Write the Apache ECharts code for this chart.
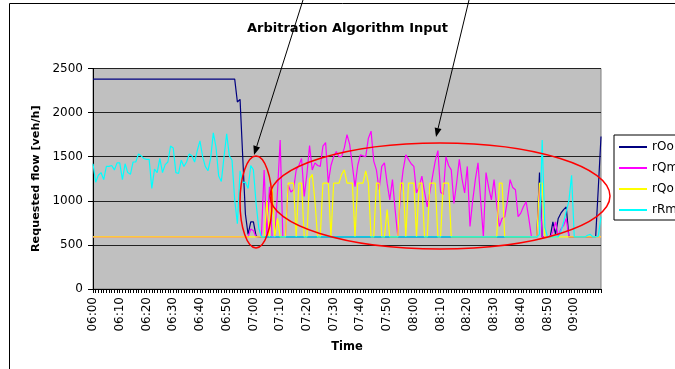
<!DOCTYPE html>
<html>
<head>
<meta charset="utf-8">
<script src="https://cdn.jsdelivr.net/npm/echarts@6/dist/echarts.min.js"></script>
<style>
  html, body { margin: 0; padding: 0; background: #fff; }
  #chartWrap { width: 675px; height: 369px; }
</style>
</head>
<body>
<div id="chartWrap"></div>
<script>
// one point per minute, 06:00 .. 09:10
var times = [];
for (var i = 0; i <= 190; i++) {
  var h = 6 + Math.floor(i / 60), m = i % 60;
  times.push('0' + h + ':' + (m < 10 ? '0' : '') + m);
}

var rOo = [
  2380,2380,2380,2380,2380,2380,2380,2380,2380,2380,
  2380,2380,2380,2380,2380,2380,2380,2380,2380,2380,
  2380,2380,2380,2380,2380,2380,2380,2380,2380,2380,
  2380,2380,2380,2380,2380,2380,2380,2380,2380,2380,
  2380,2380,2380,2380,2380,2380,2380,2380,2380,2380,
  2380,2380,2380,2380,2120,2150,1500,850,620,760,
  760,600,590,590,590,590,590,590,590,590,
  590,590,590,590,590,590,590,590,590,590,
  590,590,590,590,590,590,590,590,590,590,
  590,590,590,590,590,590,590,590,590,590,
  590,590,590,590,590,590,590,590,590,590,
  590,590,590,590,590,590,590,590,590,590,
  590,590,590,590,590,590,590,590,590,590,
  590,590,590,590,590,590,590,590,590,590,
  590,590,590,590,590,590,590,590,590,590,
  590,590,590,590,590,590,590,590,590,590,
  590,590,590,590,590,590,590,1320,590,590,
  590,590,760,620,800,860,900,930,590,590,
  590,590,590,590,590,590,590,590,590,1150,
  1730
];

var rQm = [
  590,590,590,590,590,590,590,590,590,590,
  590,590,590,590,590,590,590,590,590,590,
  590,590,590,590,590,590,590,590,590,590,
  590,590,590,590,590,590,590,590,590,590,
  590,590,590,590,590,590,590,590,590,590,
  590,590,590,590,590,590,590,590,590,680,
  660,590,590,600,1350,600,1160,590,590,1100,
  1690,590,590,1180,1100,1125,1350,1400,1480,1050,
  1300,1625,1350,1430,1400,1390,1620,1660,1200,1400,
  1500,1560,1500,1500,1600,1750,1640,1400,1160,1400,
  1520,1510,1500,1710,1790,1450,1350,1125,1390,1430,
  1200,1010,1240,900,595,1100,1350,1520,1470,1420,
  1390,1090,1160,1280,1100,930,1100,1280,1450,1570,
  1100,1070,1500,1400,1350,970,1200,1470,1250,1090,
  1390,710,1000,1240,1430,1000,595,1320,1150,1010,
  1240,950,710,800,820,1000,1240,1150,1125,820,
  860,935,990,800,590,590,590,1180,590,590,
  590,590,650,760,600,680,720,800,590,590,
  590,590,590,590,590,590,590,590,590,590,
  590
];

var rQo = [
  590,590,590,590,590,590,590,590,590,590,
  590,590,590,590,590,590,590,590,590,590,
  590,590,590,590,590,590,590,590,590,590,
  590,590,590,590,590,590,590,590,590,590,
  590,590,590,590,590,590,590,590,590,590,
  590,590,590,590,590,590,590,590,590,590,
  590,590,590,590,590,1000,590,1180,590,800,
  590,590,590,1200,1200,1200,590,1200,1200,590,
  590,1250,1300,1000,590,590,1200,1200,1200,590,
  1200,1200,1200,1300,1350,1200,1200,1200,590,1200,
  1200,1200,1340,1200,590,590,1200,1200,590,590,
  900,590,590,590,590,1200,1200,590,1200,1200,
  1200,590,1200,1200,590,590,1200,1200,1200,590,
  590,1200,1200,1200,590,590,590,590,590,590,
  590,590,590,590,590,590,590,590,590,590,
  590,590,1200,1200,590,590,590,590,590,590,
  590,590,590,590,590,590,590,1200,1200,590,
  590,590,590,590,590,590,590,590,590,590,
  590,590,590,590,590,590,590,590,590,590,
  590
];

var rRm = [
  1420,1210,1290,1320,1240,1390,1390,1400,1350,1430,
  1430,1240,1420,1320,1300,1440,1440,1530,1510,1480,
  1470,1470,1140,1360,1320,1480,1320,1410,1440,1620,
  1600,1320,1310,1460,1390,1440,1530,1510,1440,1570,
  1680,1500,1390,1340,1480,1770,1610,1280,1220,1500,
  1760,1510,1460,1010,740,1340,1210,1210,1140,1400,
  1350,970,690,590,590,590,590,590,590,590,
  590,590,590,590,590,590,590,590,590,590,
  590,590,590,590,590,590,590,590,590,590,
  590,590,590,590,590,590,590,590,590,590,
  590,590,590,590,590,590,590,590,590,590,
  590,590,590,590,590,590,590,590,590,590,
  590,590,590,590,590,590,590,590,590,590,
  590,590,590,590,590,590,590,590,590,590,
  590,590,590,590,590,590,590,590,590,590,
  590,590,590,590,590,590,590,590,590,590,
  590,590,590,590,590,590,590,620,1690,700,
  590,590,590,590,590,650,760,880,1000,1290,
  590,590,590,590,590,610,620,590,590,600,
  820
];

var seriesNames = ['rOo', 'rQm', 'rQo', 'rRm'];
var seriesData = [rOo, rQm, rQo, rRm];
var seriesColors = ['#000080', '#FF00FF', '#FFFF00', '#00FFFF'];

var FONT = 'DejaVu Sans';

// arrow = line + filled head (annotation only)
function arrow(x1, y1, x2, y2) {
  var dx = x2 - x1, dy = y2 - y1, len = Math.sqrt(dx * dx + dy * dy);
  var ux = dx / len, uy = dy / len, hl = 9, hw = 3.5;
  var bx = x2 - ux * hl, by = y2 - uy * hl;
  return [{
    type: 'line', z: 100, silent: true,
    shape: { x1: x1, y1: y1, x2: bx, y2: by },
    style: { stroke: '#000', lineWidth: 1 }
  }, {
    type: 'polygon', z: 100, silent: true,
    shape: { points: [[x2, y2], [bx + uy * hw, by - ux * hw], [bx - uy * hw, by + ux * hw]] },
    style: { fill: '#000' }
  }];
}

var graphics = [
  { type: 'rect', z: 0, silent: true, shape: { x: 9.5, y: 3.5, width: 720, height: 420 },
    style: { fill: 'none', stroke: '#000', lineWidth: 1 } },
  { type: 'ellipse', z: 100, silent: true, shape: { cx: 256, cy: 202, rx: 16, ry: 46 },
    style: { fill: 'none', stroke: '#FF0000', lineWidth: 1.5 } },
  { type: 'ellipse', z: 100, silent: true, shape: { cx: 440, cy: 196, rx: 170, ry: 53 },
    style: { fill: 'none', stroke: '#FF0000', lineWidth: 1.5 } }
].concat(arrow(303, 0, 254, 155)).concat(arrow(469, 0, 436, 137));

var series = [];
for (var s = 0; s < seriesNames.length; s++) {
  series.push({
    name: seriesNames[s],
    type: 'line',
    data: seriesData[s],
    showSymbol: false,
    symbol: 'none',
    lineStyle: { width: 1.2, color: seriesColors[s] },
    itemStyle: { color: seriesColors[s] },
    z: 2 + s
  });
}

var myChart = echarts.init(document.getElementById('chartWrap'));
myChart.setOption({
  animation: false,
  backgroundColor: '#fff',
  title: {
    text: 'Arbitration Algorithm Input',
    left: 247, top: 22, padding: 0,
    textStyle: { fontFamily: FONT, fontSize: 13, fontWeight: 'bold', color: '#000' }
  },
  legend: {
    data: seriesNames,
    orient: 'vertical',
    left: 614, top: 135,
    icon: 'rect', itemWidth: 28, itemHeight: 2, itemGap: 9,
    padding: [6, 40, 4, 5],
    borderColor: '#000', borderWidth: 1, backgroundColor: '#fff',
    textStyle: { fontFamily: FONT, fontSize: 12, color: '#000' }
  },
  grid: {
    left: 93, right: 74, top: 68.5, bottom: 80,
    show: true, backgroundColor: '#C0C0C0', borderColor: '#808080', borderWidth: 1
  },
  xAxis: {
    type: 'category', data: times, boundaryGap: false,
    name: 'Time', nameLocation: 'middle', nameGap: 52,
    nameTextStyle: { fontFamily: FONT, fontSize: 11.5, fontWeight: 'bold', color: '#000' },
    axisLine: { lineStyle: { color: '#000', width: 1 } },
    axisTick: { interval: 0, length: 4, lineStyle: { color: '#000' } },
    axisLabel: {
      interval: function (idx) { return idx % 10 === 0 && idx < 190; },
      rotate: 90, margin: 8, fontFamily: FONT, fontSize: 12, color: '#000'
    },
    splitLine: { show: false }
  },
  yAxis: {
    type: 'value', min: 0, max: 2500, interval: 500,
    name: 'Requested flow [veh/h]', nameLocation: 'middle', nameGap: 49, nameRotate: 90,
    nameTextStyle: { fontFamily: FONT, fontSize: 11.2, fontWeight: 'bold', color: '#000' },
    axisLine: { show: true, lineStyle: { color: '#000', width: 1 } },
    axisTick: { show: true, length: 5, lineStyle: { color: '#000' } },
    axisLabel: {
      margin: 10, fontFamily: FONT, fontSize: 12, color: '#000',
      formatter: function (v) { return String(v); }
    },
    splitLine: { lineStyle: { color: '#222', width: 1 } }
  },
  graphic: graphics,
  series: series
});
</script>
</body>
</html>
